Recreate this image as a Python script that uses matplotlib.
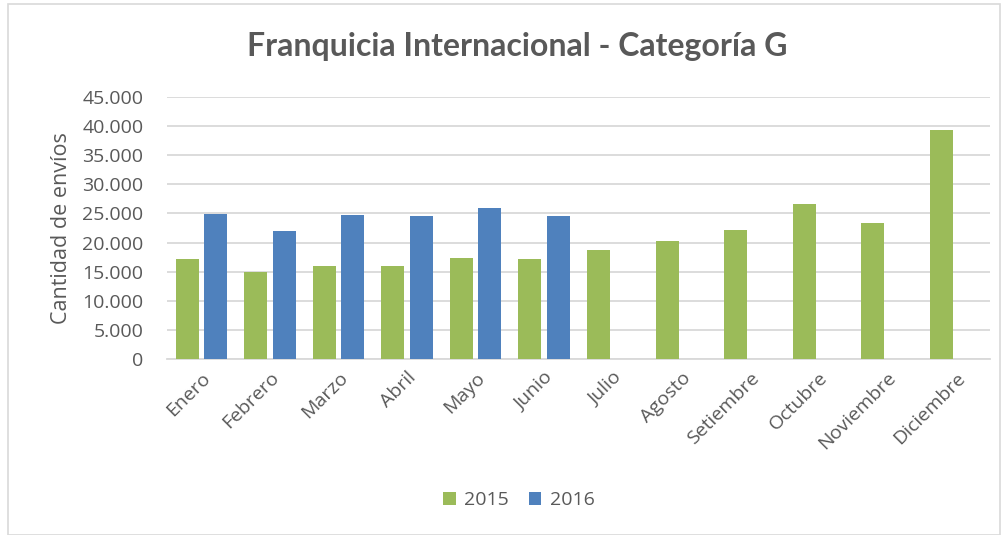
import matplotlib
matplotlib.use("Agg")
import matplotlib.pyplot as plt
import numpy as np
from matplotlib.ticker import FuncFormatter
from matplotlib.patches import Rectangle

months = ["Enero", "Febrero", "Marzo", "Abril", "Mayo", "Junio", "Julio",
          "Agosto", "Setiembre", "Octubre", "Noviembre", "Diciembre"]
v2015 = [17100, 15000, 16000, 15900, 17300, 17100, 18800, 20200, 22200, 26700, 23300, 39400]
v2016 = [24900, 21900, 24700, 24500, 25900, 24600, np.nan, np.nan, np.nan, np.nan, np.nan, np.nan]
series_names = ["2015", "2016"]
yticks = list(range(0, 45001, 5000))

green = "#9BBB59"
blue = "#4F81BD"
grid = "#D9D9D9"
text_col = "#595959"
font = "Open Sans"
title_font = "Lato"

fig = plt.figure(figsize=(10.07, 5.35), dpi=100)
ax = fig.add_axes([167/1007, 1-359/535, (990-167)/1007, (359-97)/535])

x = np.arange(len(months))
w = 0.335
off = 0.208
ax.bar(x - off, v2015, width=w, color=green, label=series_names[0], zorder=3)
ax.bar(x + off, v2016, width=w, color=blue, label=series_names[1], zorder=3)

ax.set_xlim(-0.5, len(months) - 0.5)
ax.set_ylim(0, 45000)
ax.set_yticks(yticks)
ax.yaxis.set_major_formatter(FuncFormatter(lambda v, p: f"{int(v):,}".replace(",", ".")))
ax.grid(axis="y", color=grid, linewidth=1.3, zorder=0)
ax.set_axisbelow(True)
for s in ["top", "right", "left"]:
    ax.spines[s].set_visible(False)
ax.spines["bottom"].set_color(grid)
ax.spines["bottom"].set_linewidth(1.3)
ax.tick_params(axis="both", length=0, colors=text_col, labelsize=14)
ax.tick_params(axis="y", pad=17)
ax.tick_params(axis="x", pad=7)
ax.set_xticks(x)
ax.set_xticklabels(months, rotation=45, ha="right", rotation_mode="anchor", fontfamily=font)
for lab in ax.get_yticklabels():
    lab.set_fontfamily(font)
ax.set_ylabel("Cantidad de envíos", fontsize=15.5, color=text_col, fontfamily=font, labelpad=7)

fig.text(517/1007, 1-47/535, "Franquicia Internacional - Categoría G", ha="center", va="center",
         fontsize=23, fontweight="bold", color=text_col, fontfamily=title_font)

leg = fig.legend(loc="center", bbox_to_anchor=(519/1007, 1-500/535), ncol=2, frameon=False,
                 prop={"family": font, "size": 14}, handlelength=0.65, handleheight=0.65,
                 handletextpad=0.45, columnspacing=1.0, labelcolor=text_col)

fig.patches.append(Rectangle((8/1007, 0), (1000-8)/1007, 1-4/535, transform=fig.transFigure,
                             fill=False, edgecolor=grid, linewidth=1.2))

fig.savefig("out.png", dpi=100, facecolor="white")
